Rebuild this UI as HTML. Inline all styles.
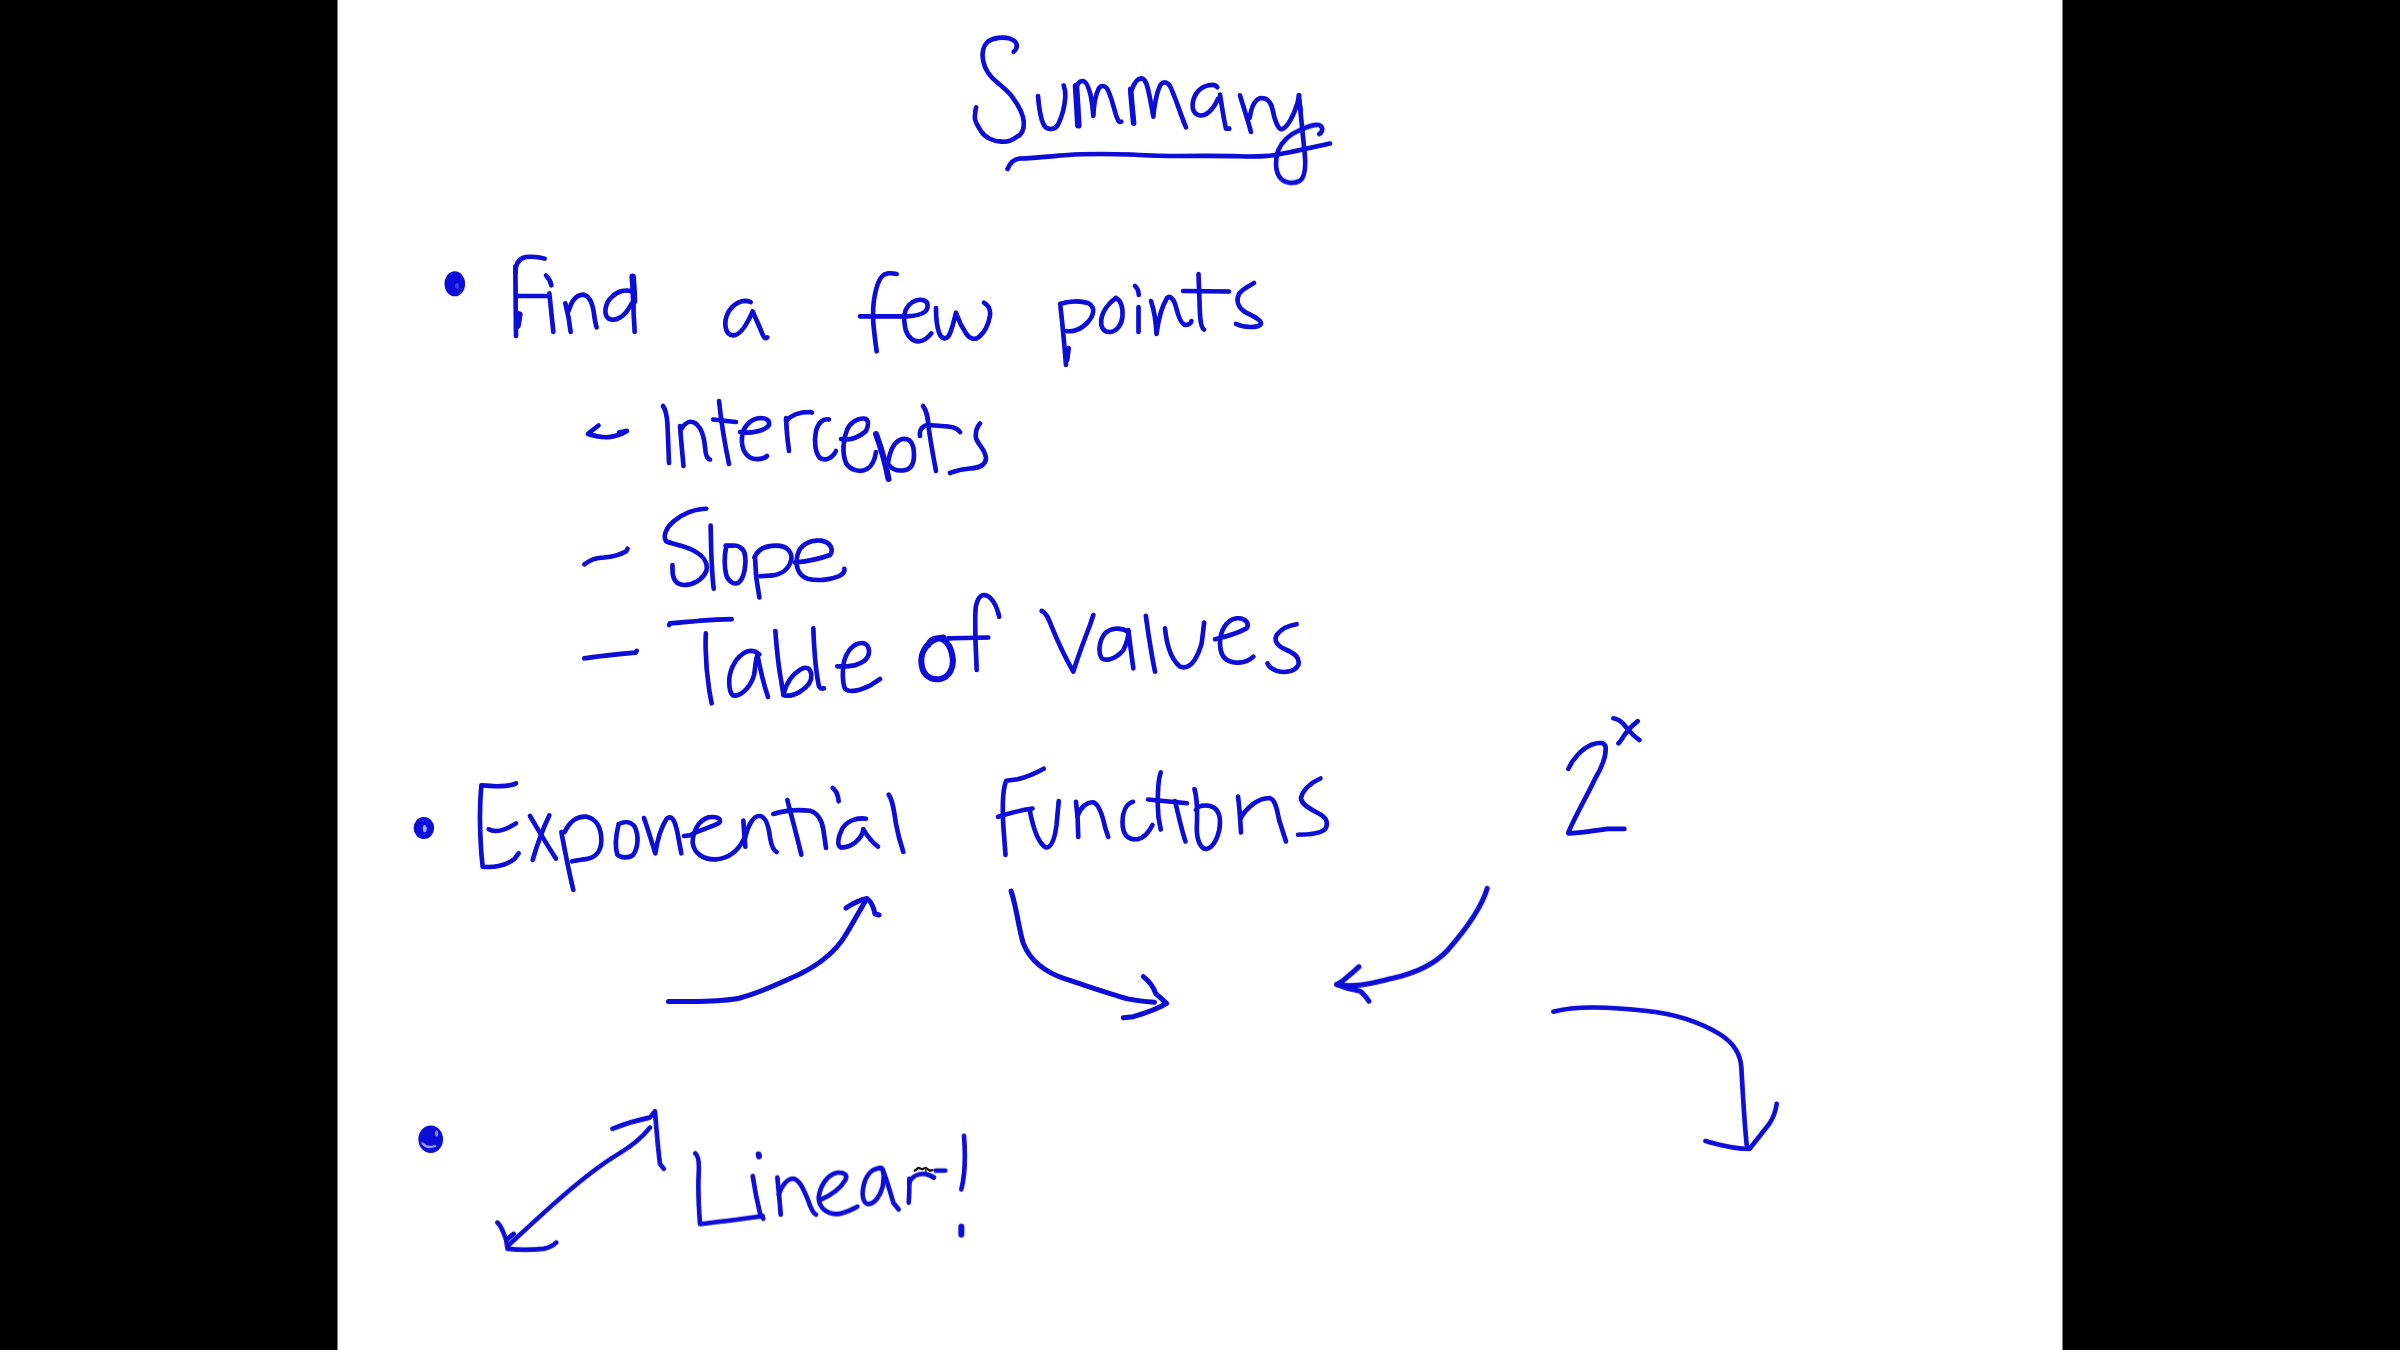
<!DOCTYPE html>
<html><head><meta charset="utf-8"><title>Summary</title>
<style>
html,body{margin:0;padding:0;background:#000;width:2400px;height:1350px;overflow:hidden;font-family:"Liberation Sans",sans-serif;}
svg{display:block;position:absolute;left:0;top:0;}
.s path{fill:none;stroke:#0808d8;stroke-width:4.6;stroke-linecap:round;stroke-linejoin:round;vector-effect:non-scaling-stroke;}
</style></head><body>
<svg width="2400" height="1350" viewBox="0 0 2400 1350">
<defs><filter id="soft" x="-5%" y="-5%" width="110%" height="110%"><feGaussianBlur stdDeviation="0.55"/></filter></defs>
<rect x="0" y="0" width="2400" height="1350" fill="#000"/>
<rect x="337.5" y="0" width="1725" height="1350" fill="#fff"/>
<g class="s" filter="url(#soft)">
<!-- SUMMARY -->
<g transform="translate(940,20) scale(0.1666667)">
<path d="M442,191 C470,165 470,130 420,112 C380,100 320,105 287,130 C255,160 250,200 259,245 C270,300 300,340 342,374 C380,405 410,430 431,458 C470,510 500,560 503,613 C505,660 490,690 459,702 C430,725 400,732 370,730 C320,728 270,705 248,669 C225,635 208,610 209,586 C210,560 212,540 217,524"/>

</g>
<g transform="translate(1030,70) scale(0.0666667)">
<path d="M120,390 C130,520 150,720 210,830 C260,910 370,900 420,820 C480,700 520,540 530,400 C535,320 515,260 505,230"/>
<path style="stroke-width:6.5" d="M690,240 C700,400 715,650 725,830"/>
<path d="M700,250 C720,190 760,160 800,165 C850,175 880,260 910,380 C930,480 945,600 950,690 C955,560 980,380 1030,280 C1060,230 1110,225 1150,270 C1200,340 1240,500 1280,640 C1310,740 1330,800 1370,775"/>
<path style="stroke-width:5.5" d="M1510,290 C1520,450 1540,650 1555,800"/>
<path d="M1530,290 C1560,200 1610,130 1670,125 C1730,130 1760,220 1790,380 C1820,520 1840,650 1850,700 C1860,560 1900,320 1960,220 C2000,170 2060,175 2100,240 C2170,380 2270,700 2340,860"/>
</g>
<g transform="translate(1180,70) scale(0.0666667)">
<path d="M560,260 C520,200 360,210 260,330 C170,450 160,620 260,670 C370,720 500,600 570,430"/>
<path d="M600,370 C620,500 660,750 690,880 L740,880"/>
<path d="M900,380 C940,520 1010,720 1065,930"/>
<path d="M1045,720 C1070,560 1130,430 1220,420 C1330,420 1370,500 1390,600 C1420,750 1470,880 1520,890 C1600,880 1700,700 1760,500 L1790,380"/>
<path d="M1780,380 C1790,480 1800,560 1810,600"/>
</g>
<g transform="translate(1220,100) scale(0.0666667)">
<path d="M1190,0 C1210,200 1240,500 1270,800 C1290,1000 1280,1150 1200,1210 C1120,1260 960,1260 890,1150 C830,1050 830,900 870,760 C930,620 1050,510 1200,450 C1320,400 1420,350 1500,380 C1550,410 1540,480 1490,510"/>

</g>

<path d="M1007.5,169 C1010,163 1014,159 1020,158.5 C1040,158 1060,155 1080,154.3 C1100,153.8 1115,154 1130,154.5 C1150,155.5 1165,156 1180,156 C1200,155.8 1220,155.6 1240,156.3 C1255,156.8 1265,156.5 1275,155 C1290,152.5 1310,148 1330,143.5"/>
<path d="M914.8,1170.7 L918.4,1167.8 L922.2,1169.3 L925.8,1167.8 L929.6,1170.7 L932.6,1170.1" style="stroke:#101018;stroke-width:2.2"/>
<path d="M926,1168 L926,1175" style="stroke:#2a4a10;stroke-width:1.6"/>
<path d="M928,1175 L934,1178.6" style="stroke:#101030;stroke-width:3"/>
<!-- FIND A FEW POINTS -->
<ellipse cx="454.8" cy="283.8" rx="10.3" ry="12.5" fill="#0808d8" stroke="none"/>
<ellipse cx="457" cy="286" rx="2" ry="3" fill="#3a3af0" stroke="none"/>
<g transform="translate(430,240) scale(0.1333333)">
<path d="M640,250 C640,190 660,140 720,128 C770,122 820,128 860,140"/>
<path d="M640,200 C640,350 642,500 645,720"/>
<path style="stroke-width:7" d="M668,560 L655,640"/>
<path d="M660,420 L890,420"/>
<path d="M870,265 C895,290 905,310 910,340"/>
<path d="M895,400 C905,500 915,600 925,690"/>
<path d="M1015,475 C1030,530 1045,600 1055,690"/>
<path d="M1040,530 C1060,460 1090,415 1140,410 C1190,410 1215,460 1228,540 C1235,590 1240,630 1250,655"/>
<path d="M1510,385 C1470,370 1410,380 1360,430 C1310,480 1300,560 1340,590 C1390,615 1460,580 1510,480"/>
<path style="stroke-width:6.5" d="M1520,275 C1525,340 1530,400 1530,460"/>
<path d="M1525,420 C1525,520 1530,620 1535,690"/>
</g>
<g transform="translate(700,250) scale(0.1333333)">
<path d="M380,390 C320,365 250,400 210,470 C175,540 185,640 250,640 C310,640 360,540 395,460 C420,520 450,580 470,635 C480,660 495,668 505,655"/>
</g>
<g transform="translate(850,260) scale(0.0666667)">
<path d="M700,210 C650,200 580,190 520,215 C440,260 390,400 360,600 C340,750 340,900 360,1050 C375,1200 390,1300 400,1370"/>
<path d="M150,845 L850,845 C950,840 1050,830 1120,780 C1180,730 1180,640 1120,610 C1050,580 950,600 880,680 C810,760 800,900 830,1030 C860,1150 950,1230 1040,1220 C1120,1210 1180,1150 1220,1100"/>
<path d="M1290,720 C1290,850 1300,1000 1340,1100 C1380,1200 1460,1200 1500,1100 C1540,1000 1570,870 1590,790 C1620,880 1680,1010 1740,1100 C1790,1180 1870,1210 1940,1150 C2020,1080 2080,950 2100,830 C2110,740 2080,680 2010,640"/>
</g>
<g transform="translate(1040,260) scale(0.1)">
<path d="M205,470 C220,600 240,800 260,1050"/>
<path style="stroke-width:5.5" d="M282,885 L268,1000"/>
<path d="M200,440 C280,410 400,405 480,430 C560,470 540,560 470,630 C400,700 320,720 260,710"/>
<path d="M760,380 C700,420 625,500 612,600 C605,680 640,722 700,720 C770,715 820,640 825,560 C830,460 800,400 760,380"/>
<path d="M950,260 C975,280 985,310 988,350"/>
<path d="M985,470 L985,720"/>
<path d="M1110,410 C1140,500 1160,620 1165,740 C1180,620 1215,470 1270,380 C1300,350 1340,390 1360,470 C1385,570 1410,640 1450,650 C1490,650 1510,630 1515,610"/>
<path d="M1585,140 L1600,550 C1605,620 1612,680 1640,695"/>
<path d="M1430,310 L1890,315"/>
<path d="M2140,230 C2100,260 2030,280 1990,340 C1960,400 1975,470 2050,520 C2130,560 2220,600 2210,640 C2180,680 2050,680 1960,640"/>
</g>
<!-- INTERCEPTS -->
<g transform="translate(570,385) scale(0.1)">
<path d="M285,405 C240,440 200,470 180,490 C260,515 350,540 450,510 C500,495 540,480 570,460 M490,475 L560,460"/>
<path d="M930,210 C960,250 970,300 975,400 C980,550 985,680 990,780"/>
<path d="M1100,410 C1110,550 1125,700 1135,810"/>
<path d="M1120,430 C1150,380 1200,350 1250,380 C1310,420 1340,500 1350,620 C1355,700 1370,740 1400,745"/>
<path d="M1490,160 C1510,350 1550,600 1590,790"/>
<path d="M1430,345 L1660,370"/>
<path d="M1700,470 C1800,490 1950,460 1990,400 C2000,350 1960,330 1900,330 C1800,340 1730,420 1720,520 C1710,640 1760,730 1850,740 C1920,745 1960,720 1970,710"/>
<path d="M2160,330 C2165,450 2175,560 2190,660"/>
<path d="M2160,360 C2210,300 2300,270 2400,270 L2420,275"/>
</g>
<g transform="translate(790,385) scale(0.1)">
<path d="M390,345 C330,330 280,380 260,460 C240,560 250,680 300,730 C350,760 420,740 460,660"/>
<path d="M510,540 C600,560 700,520 760,460 C790,400 790,340 740,335 C670,330 600,380 570,450 C530,550 520,680 560,780 C600,850 700,880 770,840 C820,810 850,740 860,670"/>
<path style="stroke-width:6" d="M860,490 C900,600 950,750 985,940"/>
<path d="M980,780 C1000,650 1050,560 1120,540 C1200,530 1240,580 1240,700 C1240,800 1200,850 1130,855 C1060,860 1010,830 990,800"/>
<path d="M1330,210 C1370,260 1380,330 1390,450 C1410,600 1440,750 1460,860"/>
<path d="M1300,510 C1290,450 1320,410 1380,400 L1580,415 C1640,420 1680,440 1700,470"/>
<path d="M1900,385 C1870,420 1850,460 1860,530 C1880,600 1960,650 1960,740 C1950,800 1900,830 1800,835 C1720,840 1650,860 1600,880"/>
</g>
<!-- SLOPE -->
<g transform="translate(570,490) scale(0.125)">
<path d="M115,595 C160,560 210,540 270,540 C330,535 400,520 450,490 L460,470"/>
<path d="M1090,150 C1000,150 900,190 830,250 C770,300 740,370 770,410 C800,430 900,440 980,480 C1060,520 1110,580 1090,650 C1060,720 980,760 910,760 C840,755 820,700 820,640 L820,600"/>
<path d="M1125,285 L1130,500 C1135,620 1140,720 1150,790"/>
<path d="M1250,450 C1240,500 1230,600 1250,680 C1270,740 1320,760 1350,740 C1400,700 1410,580 1400,520 C1390,460 1340,440 1300,445 L1245,445"/>
<path d="M1480,540 L1490,700 L1515,860"/>
<path d="M1475,540 C1500,480 1550,445 1650,445 C1740,445 1780,500 1770,560 C1750,640 1680,680 1600,685 L1520,690"/>
<path d="M1800,580 C1900,570 2000,550 2080,520 C2110,480 2090,420 2010,405 C1920,395 1840,440 1820,520 C1800,600 1820,680 1900,710 C1980,730 2080,720 2150,690 C2190,670 2200,650 2195,630"/>
</g>

<!-- TABLE OF VALUES -->
<g transform="translate(570,590) scale(0.1666667)">
<path d="M85,410 C180,395 290,385 395,375 L400,365"/>
<path d="M595,210 L600,200 C720,190 850,175 970,175"/>
<path d="M815,260 C810,380 820,500 835,600 L850,680"/>
</g>
<g transform="translate(720,615) scale(0.0666667)">
<path d="M590,590 C540,540 450,520 380,560 C250,630 160,780 140,950 C130,1100 160,1220 230,1210 C350,1200 470,1050 510,900 C530,800 530,700 560,600"/>
<path d="M560,590 C600,800 660,1050 720,1230"/>
<path d="M830,240 C850,500 880,800 920,1000 L950,1190"/>
<path d="M950,1190 C1000,1000 1100,880 1200,820 C1300,760 1360,800 1370,900 C1380,1000 1330,1070 1200,1150 C1100,1210 1000,1220 950,1200"/>
<path d="M1400,200 C1410,500 1440,850 1480,1050 C1490,1100 1520,1110 1560,1100"/>
<path d="M1760,770 L1900,770 C2050,770 2200,700 2230,590 C2250,480 2200,420 2130,420 C2000,420 1900,550 1860,700 C1830,850 1840,1050 1880,1110 C1950,1170 2100,1130 2250,1060 L2400,960"/>
</g>
<g transform="translate(910,580) scale(0.1666667)">
<path style="stroke-width:6" d="M200,345 C120,350 65,420 68,490 C70,560 110,600 175,595 C240,585 265,520 255,460 C245,400 220,360 180,350 C150,345 120,360 110,390"/>
<path d="M400,540 C395,400 385,250 395,160 C405,110 420,90 445,90 C485,92 520,150 535,220"/>
<path d="M230,350 L470,345"/>
<path d="M790,185 C820,200 830,230 850,280 C890,380 940,480 980,550 C1010,450 1050,350 1080,270 L1100,210"/>
<path d="M1310,310 C1260,280 1200,290 1170,320 C1130,370 1130,440 1150,470 C1180,490 1240,470 1280,420 C1300,380 1310,340 1310,310"/>
<path d="M1310,300 L1325,420 L1340,530"/>
<path d="M1415,215 C1430,330 1450,450 1470,550"/>
<path d="M1530,290 C1540,390 1570,480 1620,520 C1680,540 1720,480 1750,380 L1765,255"/>
<path d="M1830,355 C1900,340 1960,320 2020,290 C2040,260 2010,225 1960,230 C1900,240 1860,300 1860,380 C1860,450 1890,490 1950,495 C2000,500 2040,480 2060,460"/>
<path d="M2320,265 C2280,270 2230,290 2200,330 C2180,370 2210,400 2260,420 C2310,440 2340,470 2330,510 C2310,550 2250,560 2200,545 C2170,535 2150,515 2145,500"/>
</g>
<!-- 2^x -->
<g transform="translate(1530,700) scale(0.1111111)">
<path d="M345,620 C380,540 460,440 560,400 C620,380 670,380 680,420 C690,500 640,620 590,700 C520,850 430,1000 350,1180 L345,1200 C450,1200 600,1170 700,1160 L850,1160"/>
<path d="M750,165 C790,170 830,200 860,240 C900,290 940,330 985,360"/>
<path d="M970,190 C920,230 870,280 840,330 C820,360 810,380 795,390"/>
</g>
<!-- EXPONENTIAL FUNCTIONS -->
<ellipse cx="423.9" cy="828" rx="10.3" ry="11" fill="#0808d8" stroke="none"/>
<ellipse cx="424.7" cy="828.6" rx="2" ry="3.6" fill="#a8a8ff" stroke="none"/>
<g transform="translate(400,760) scale(0.1333333)">
<path d="M870,175 C820,200 700,200 620,190 L610,190 C600,300 595,500 610,700 L620,800 C700,810 800,790 860,740 L890,700"/>
<path d="M665,520 C720,550 800,520 870,475"/>
<path d="M975,420 C1040,530 1110,650 1170,740"/>
<path d="M1120,415 C1070,520 1030,630 995,750"/>
<path d="M1210,540 C1240,700 1270,850 1300,975"/>
<path d="M1235,540 C1280,450 1330,420 1400,425 C1480,440 1510,520 1510,600 C1510,690 1460,740 1380,745 L1290,760"/>
<path d="M1640,480 C1620,560 1610,650 1630,710 C1660,740 1720,735 1750,710 C1790,650 1790,560 1760,500 C1730,460 1680,460 1640,480"/>
<path d="M1830,435 C1860,520 1890,620 1915,700 C1930,600 1960,500 2000,440 C2040,410 2060,450 2080,540 L2110,700"/>
</g>
<g transform="translate(690,760) scale(0.1333333)">
<path d="M-45,570 L0,565 C80,520 180,500 220,470 C240,440 200,420 140,430 C70,450 20,530 20,620 C30,700 100,750 200,745 C290,735 360,680 400,600"/>
<path d="M400,455 C405,540 410,600 415,650"/>
<path d="M410,600 C430,500 470,420 520,420 C570,420 590,500 600,580 C610,640 630,680 650,690"/>
<path d="M730,300 C760,420 800,560 835,710"/>
<path d="M625,405 C700,380 800,370 900,380 C950,390 990,450 1000,520 L1020,660"/>
<path d="M1070,210 C1100,230 1110,260 1115,310"/>
<path d="M1320,440 C1250,430 1170,460 1140,520 C1110,580 1100,640 1130,655 C1200,660 1290,600 1300,520"/>
<path d="M1300,520 C1330,570 1370,620 1410,650"/>
<path d="M1490,260 C1520,300 1530,380 1545,480 C1560,560 1580,630 1600,690"/>
</g>
<g transform="translate(980,750) scale(0.15)">
<path d="M425,125 C380,150 320,180 250,195 L175,205 C150,260 150,400 155,500 L170,700"/>
<path d="M120,445 C200,420 280,400 350,390"/>
<path d="M330,395 C350,500 380,620 440,650 C480,650 500,580 510,500 L525,340"/>
<path d="M640,345 C650,420 655,500 655,580"/>
<path d="M650,440 C670,380 720,340 760,350 C800,370 820,450 835,520 L855,580"/>
<path d="M1020,345 C970,360 950,420 950,480 C950,560 980,600 1050,595 C1100,585 1130,540 1150,500"/>
<path d="M1205,150 C1185,200 1180,350 1190,450 L1205,530"/>
<path d="M1120,330 L1380,355"/>
<path d="M1300,340 C1320,420 1340,520 1370,610"/>
<path d="M1430,260 C1450,330 1450,420 1445,520 C1445,600 1470,660 1510,660 C1560,650 1600,560 1600,480 C1600,400 1560,370 1500,370 C1470,370 1450,380 1440,400"/>
<path d="M1720,310 C1730,380 1735,460 1740,550"/>
<path d="M1735,460 C1770,390 1850,320 1930,320 C1970,330 1980,400 1995,470 L2040,610"/>
<path d="M2270,190 C2200,220 2150,270 2140,320 C2140,370 2220,400 2270,430 C2320,460 2320,500 2300,530 C2260,560 2200,565 2120,565"/>
</g>
<!-- ARROWS -->
<g transform="translate(650,880) scale(0.1)">
<path style="stroke-width:5" d="M185,1215 C400,1215 700,1225 900,1180 C1100,1130 1300,1030 1500,940 C1700,840 1850,720 1950,560 C2030,430 2100,300 2160,200"/>
<path style="stroke-width:5" d="M1960,280 C2020,240 2100,200 2170,185 C2220,220 2240,290 2250,340 L2290,350"/>
</g>
<g transform="translate(1000,880) scale(0.1111111)">
<path style="stroke-width:5" d="M100,100 C150,250 170,450 210,570 C280,750 430,840 600,895 C800,960 1000,1030 1150,1070 C1250,1090 1320,1095 1390,1100"/>
<path style="stroke-width:5" d="M1290,870 C1340,910 1380,960 1400,1020 L1500,1110 C1420,1160 1300,1200 1200,1230 L1110,1240"/>
</g>
<g transform="translate(1320,870) scale(0.1111111)">
<path style="stroke-width:5" d="M1505,165 C1450,350 1300,550 1150,720 C1030,850 850,930 650,975 C480,1015 330,1060 150,1030"/>
<path style="stroke-width:5" d="M350,870 C300,920 250,960 200,1000 L150,1030 C220,1060 300,1080 360,1090 C390,1110 420,1150 440,1180"/>
</g>
<g transform="translate(1540,985) scale(0.1333333)">
<path d="M100,200 C250,160 500,160 800,195 C1000,215 1200,280 1350,370 C1460,440 1505,520 1510,620 C1520,800 1530,1000 1550,1200"/>
<path d="M1240,1170 C1350,1200 1450,1230 1570,1230 C1620,1170 1680,1090 1720,1040 C1760,980 1770,930 1775,890"/>
</g>
<!-- LINEAR -->
<ellipse cx="430.7" cy="1139.3" rx="12.3" ry="13.8" fill="#0808d8" stroke="none"/>
<path d="M422.5,1143.5 Q427.5,1149 435,1146" style="stroke:#9a9aff;stroke-width:2.4"/>
<ellipse cx="436.6" cy="1133.5" rx="1.5" ry="3" fill="#8a8aff" stroke="none"/>
<g transform="translate(400,1095) scale(0.125)">
<path d="M870,1200 C1000,1080 1150,940 1300,810 C1450,680 1600,560 1750,470 C1850,410 1930,350 2000,260"/>
<path d="M780,1020 C810,1050 830,1100 850,1160 L860,1230 C950,1240 1050,1240 1150,1230 C1200,1220 1230,1200 1250,1180"/>
<path d="M850,1160 L910,1110"/>
<path d="M1700,270 C1800,230 1900,200 2000,180 L2040,130 C2050,250 2060,400 2080,550 L2110,590"/>
</g>
<g transform="translate(680,1120) scale(0.1333333)">
<path d="M115,250 C140,270 145,320 140,400 C135,500 140,650 150,780 C250,770 400,750 550,730 L620,720"/>
<path style="stroke-width:6" d="M590,258 L592,272"/>
<path d="M545,420 C560,520 580,620 600,700 L625,740"/>
<path d="M730,430 C740,530 750,630 755,710"/>
<path d="M740,560 C760,500 800,440 850,440 C900,450 930,530 960,600 C980,660 1000,700 1020,710"/>
<path d="M1050,600 C1120,570 1200,520 1240,450 C1260,410 1230,390 1180,395 C1100,410 1050,500 1040,580 C1040,650 1090,700 1170,705 C1230,705 1290,670 1330,650"/>
<path d="M1510,360 C1450,360 1400,400 1380,480 C1360,560 1370,620 1410,630 C1460,630 1500,570 1520,500 C1530,440 1530,380 1510,360"/>
<path d="M1520,370 C1550,450 1580,550 1600,620 L1640,670"/>
<path d="M1720,440 C1720,500 1720,570 1715,620"/>
<path d="M1720,470 C1740,420 1790,400 1840,405 C1870,410 1890,420 1905,430"/>
<path d="M1918,380 L1990,380"/>
<path d="M2130,120 C2140,250 2140,400 2110,520"/>
<path style="stroke-width:6" d="M2110,800 L2110,860"/>
</g>
</g>
</svg>
</body></html>
